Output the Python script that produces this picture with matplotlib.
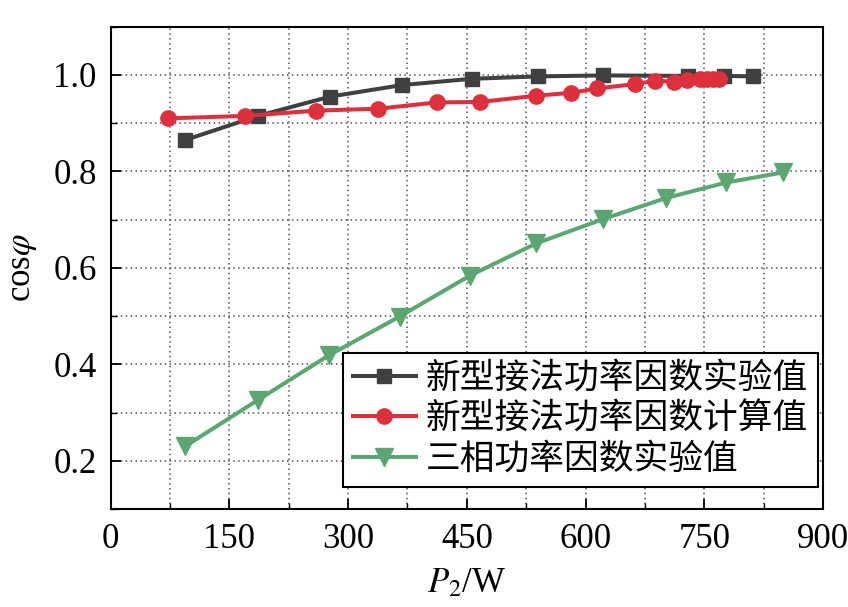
import numpy as np
import matplotlib
matplotlib.use("Agg")
import matplotlib.pyplot as plt
from matplotlib.ticker import MultipleLocator

plt.rcParams['font.family'] = ['Liberation Serif', 'Noto Sans CJK SC', 'DejaVu Sans']
plt.rcParams['mathtext.fontset'] = 'stix'

# new connection, measured power factor
p_new_exp = [94, 186, 277, 368, 456, 540, 622, 729, 775, 812]
pf_new_exp = [0.865, 0.915, 0.955, 0.979, 0.992, 0.997, 0.999, 0.998, 0.998, 0.997]

# new connection, calculated power factor
p_new_calc = [72, 170, 259, 338, 412, 467, 538, 582, 615, 662, 688, 712, 728, 745, 753, 761, 769]
pf_new_calc = [0.910, 0.915, 0.926, 0.930, 0.943, 0.944, 0.957, 0.963, 0.972, 0.981,
               0.988, 0.986, 0.990, 0.992, 0.992, 0.992, 0.992]

# three-phase, measured power factor
p_three = [94, 186, 276, 365, 454, 538, 622, 702, 778, 850]
pf_three = [0.230, 0.326, 0.419, 0.499, 0.584, 0.651, 0.701, 0.745, 0.777, 0.798]

labels = ['新型接法功率因数实验值', '新型接法功率因数计算值', '三相功率因数实验值']

fig = plt.figure(figsize=(8.48, 6.07), dpi=100)
ax = fig.add_axes([0.1305, 0.1614, 0.840, 0.7946])

ax.plot(p_new_exp, pf_new_exp, color='#404040', lw=2.9, marker='s', ms=9.5,
        label=labels[0], zorder=3)
ax.plot(p_new_calc, pf_new_calc, color='#DE2F3D', lw=2.9, marker='o', ms=11,
        label=labels[1], zorder=3)
ax.plot(p_three, pf_three, color='#5CA672', lw=2.9, marker='v', ms=12.5,
        label=labels[2], zorder=3)

ax.set_xlim(0, 900)
ax.set_ylim(0.1, 1.1)
ax.xaxis.set_major_locator(MultipleLocator(150))
ax.xaxis.set_minor_locator(MultipleLocator(75))
ax.yaxis.set_major_locator(MultipleLocator(0.2))
ax.yaxis.set_minor_locator(MultipleLocator(0.1))
ax.set_yticks([0.2, 0.4, 0.6, 0.8, 1.0])
ax.set_yticklabels(['0.2', '0.4', '0.6', '0.8', '1.0'])

ax.grid(True, which='both', color='#505050', linestyle=(0, (1, 2.2)), lw=1.1)
ax.tick_params(which='major', direction='in', length=7.5, width=1.3,
               labelsize=25, pad=10, top=False, right=False)
ax.tick_params(which='minor', direction='in', length=4, width=1.0,
               top=False, right=False)
for s in ax.spines.values():
    s.set_linewidth(1.5)

ax.set_xlabel(r'$P_2$/W', fontsize=25, labelpad=8)
ax.set_ylabel(r'cos$\varphi$', fontsize=25, labelpad=10)

leg = ax.legend(loc='lower right', bbox_to_anchor=(0.993, 0.046), borderaxespad=0,
                fontsize=25, frameon=True, fancybox=False, edgecolor='black',
                framealpha=1, handlelength=1.8, handletextpad=0.3,
                labelspacing=0.22, borderpad=0.28)
leg.get_frame().set_linewidth(1.5)

fig.savefig('out.png', dpi=100, facecolor='white')
